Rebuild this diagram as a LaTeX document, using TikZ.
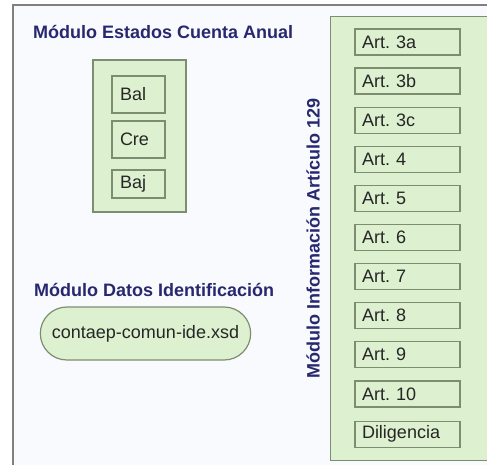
\documentclass[tikz,border=0pt]{standalone}
\usepackage{fontspec}
\setmainfont{Liberation Sans}
\usetikzlibrary{positioning,shapes.misc}
\frenchspacing
\definecolor{modblue}{HTML}{27286F}
\definecolor{modgreen}{HTML}{DDF0CF}
\definecolor{modedge}{HTML}{7D8E70}
\definecolor{framebg}{HTML}{F9FAFD}
\tikzset{
	modtitle/.style={font=\fontsize{18}{20}\selectfont\bfseries, text=modblue, inner sep=0pt},
	grp/.style={draw=modedge, fill=modgreen, line width=1.2pt},
	sub/.style={draw=modedge, fill=modgreen, line width=1.2pt, minimum width=53pt, text width=37pt, inner xsep=8pt, inner ysep=0pt, align=left, text=black!85, font=\fontsize{18}{20}\selectfont},
	artbox/.style={sub, minimum width=105pt, minimum height=26pt, text width=91pt, inner xsep=7pt},
}

\begin{document}
\begin{tikzpicture}[x=1pt,y=-1pt]
	\useasboundingbox (0,0) rectangle (487,465);
	\clip (0,0) rectangle (487,465);
	\draw[draw=gray, fill=framebg, line width=1.2pt] (13,5) rectangle (500,480);

	% cuenta anual
	\node[modtitle, anchor=west] (est) at (33,32) {Módulo Estados Cuenta Anual};
	\node[grp, minimum width=93pt, minimum height=152pt] (cuentas) at (139.5,136) {};
	\foreach \n/\t/\y/\h in {bal/Bal/94.5/37, cre/Cre/139.5/37, baj/Baj/184/28}{
		\node[sub, minimum height=\h pt] (\n) at (138.5,\y) {\t};
	}

	% datos identificacion
	\node[modtitle, anchor=west] (datos) at (34,290) {Módulo Datos Identificación};
	\node[grp, rounded rectangle, minimum width=217pt, minimum height=53pt, text=black!85, font=\fontsize{18}{20}\selectfont] (ide) at (145.5,333.5) {contaep-comun-ide.xsd};

	% articulo 129
	\node[grp, anchor=north west, minimum width=170pt, minimum height=444pt] (arts) at (330,16) {};
	\node[modtitle, rotate=90] (inf) at (313,238.5) {Módulo Información Artículo 129};
	\foreach \t [count=\i from 0] in {3a,3b,3c,4,5,6,7,8,9,10}{
		\node[artbox] (a\i) at (407.5,42+39.1*\i) {Art. \t};
	}
	\node[artbox, below=13.1pt of a9] (dil) {Diligencia};
\end{tikzpicture}
\end{document}
